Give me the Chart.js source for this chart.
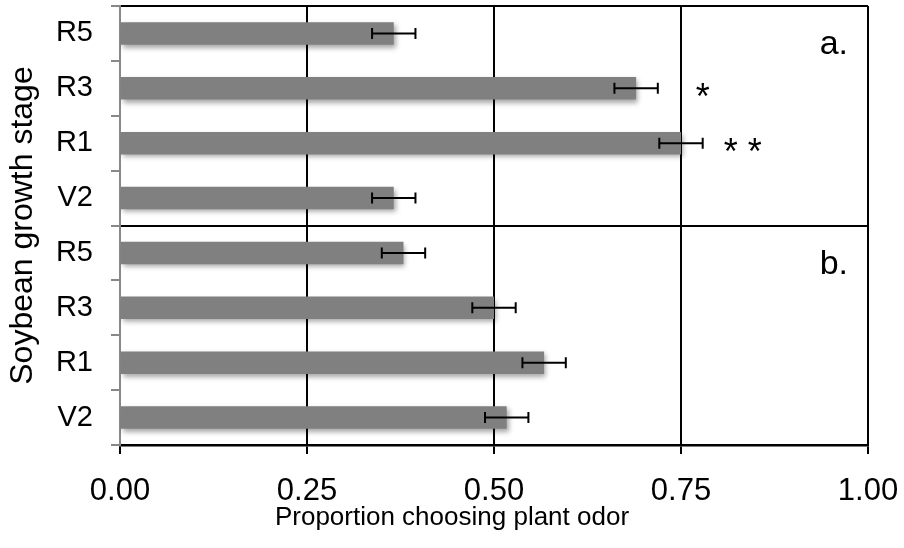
<!DOCTYPE html>
<html>
<head>
<meta charset="utf-8">
<script src="https://cdn.jsdelivr.net/npm/chart.js@4"></script>
<style>
  html, body { margin: 0; padding: 0; background: #fff; }
  #wrap { width: 904px; height: 548px; position: relative; }
</style>
</head>
<body>
<div id="wrap"><canvas id="stageChart"></canvas></div>
<script>
// Top four bars = panel a, bottom four = panel b
const stages = ['R5', 'R3', 'R1', 'V2', 'R5', 'R3', 'R1', 'V2'];
const proportions = [0.366, 0.690, 0.750, 0.366, 0.379, 0.500, 0.567, 0.517];
const errors = [0.029, 0.029, 0.029, 0.029, 0.029, 0.029, 0.029, 0.029];
const sigMarks = ['', '*', '* *', '', '', '', '', ''];
const panelLabels = ['a.', 'b.'];
const xTicks = [0, 0.25, 0.5, 0.75, 1];

const FONT = "'Liberation Sans', Arial, sans-serif";

// soft drop shadow under the bars
const barShadow = {
    id: 'barShadow',
    beforeDatasetDraw(chart) {
        const ctx = chart.ctx;
        ctx.save();
        ctx.shadowColor = 'rgba(0,0,0,0.35)';
        ctx.shadowBlur = 5;
        ctx.shadowOffsetX = 2;
        ctx.shadowOffsetY = 3;
    },
    afterDatasetDraw(chart) {
        chart.ctx.restore();
    }
};

const errorBars = {
    id: 'errorBars',
    afterDatasetsDraw(chart) {
        const ctx = chart.ctx;
        const x = chart.scales.x;
        const y = chart.scales.y;
        const meta = chart.getDatasetMeta(0);
        ctx.save();
        ctx.strokeStyle = '#000';
        ctx.lineWidth = 2;
        meta.data.forEach((bar, i) => {
            const lo = x.getPixelForValue(proportions[i] - errors[i]);
            const hi = x.getPixelForValue(proportions[i] + errors[i]);
            const cy = bar.y;
            ctx.beginPath();
            ctx.moveTo(lo, cy); ctx.lineTo(hi, cy);
            ctx.moveTo(lo, cy - 5.5); ctx.lineTo(lo, cy + 5.5);
            ctx.moveTo(hi, cy - 5.5); ctx.lineTo(hi, cy + 5.5);
            ctx.stroke();

            if (sigMarks[i]) {
                ctx.fillStyle = '#000';
                ctx.font = '36px ' + FONT;
                ctx.textAlign = 'center';
                ctx.textBaseline = 'alphabetic';
                ctx.fillText(sigMarks[i], hi + (sigMarks[i].length > 1 ? 40 : 45), cy + 21);
            }
        });

        // panel letters
        ctx.fillStyle = '#000';
        ctx.font = '34px ' + FONT;
        ctx.textAlign = 'right';
        ctx.textBaseline = 'alphabetic';
        panelLabels.forEach((lab, p) => {
            const cy = y.getPixelForValue(p * 4);
            ctx.fillText(lab, chart.chartArea.right - 20, cy + 21);
        });
        ctx.restore();
    }
};

new Chart(document.getElementById('stageChart').getContext('2d'), {
    type: 'bar',
    data: {
        labels: stages,
        datasets: [{
            data: proportions,
            backgroundColor: '#808080',
            borderWidth: 0,
            barPercentage: 0.41,
            categoryPercentage: 1.0
        }]
    },
    options: {
        indexAxis: 'y',
        responsive: true,
        maintainAspectRatio: false,
        animation: false,
        layout: { padding: { top: 6, right: 0, left: 0, bottom: 0 } },
        plugins: {
            legend: { display: false },
            tooltip: { enabled: false },
            // x-axis caption, centred on the whole figure like the original
            title: {
                display: true,
                position: 'bottom',
                text: 'Proportion choosing plant odor',
                color: '#000',
                font: { family: FONT, size: 26, weight: 'normal', lineHeight: 1.2 },
                padding: { top: 0, bottom: 15 }
            }
        },
        scales: {
            x: {
                min: 0,
                max: 1,
                afterBuildTicks: (scale) => { scale.ticks = xTicks.map(v => ({ value: v })); },
                afterFit: (scale) => {
                    scale.height = 56.8;
                    scale.paddingLeft = 0;
                    scale.paddingRight = 36;
                },
                ticks: {
                    color: '#000',
                    font: { family: FONT, size: 31 },
                    padding: 19,
                    maxRotation: 0,
                    callback: (v) => Number(v).toFixed(2)
                },
                grid: {
                    color: (c) => (c.tick && c.tick.value === 0) ? '#888' : '#000',
                    lineWidth: 2,
                    tickLength: 9,
                    tickColor: '#000',
                    tickWidth: 2
                },
                border: { color: '#000', width: 2.5 }
            },
            y: {
                afterFit: (scale) => {
                    scale.width = 120;
                    scale.paddingTop = 0;
                    scale.paddingBottom = 0;
                },
                ticks: {
                    color: '#000',
                    font: { family: FONT, size: 29 },
                    padding: 18
                },
                grid: {
                    offset: true,
                    color: (c) => (c.index === 0 || c.index === 4) ? '#000' : 'rgba(0,0,0,0)',
                    lineWidth: 2,
                    tickLength: 9,
                    tickColor: '#888',
                    tickWidth: 2
                },
                border: { color: '#888', width: 2 },
                title: {
                    display: true,
                    text: 'Soybean growth stage',
                    color: '#000',
                    font: { family: FONT, size: 32 },
                    padding: { top: 4, bottom: 0 }
                }
            }
        }
    },
    plugins: [barShadow, errorBars]
});
</script>
</body>
</html>
